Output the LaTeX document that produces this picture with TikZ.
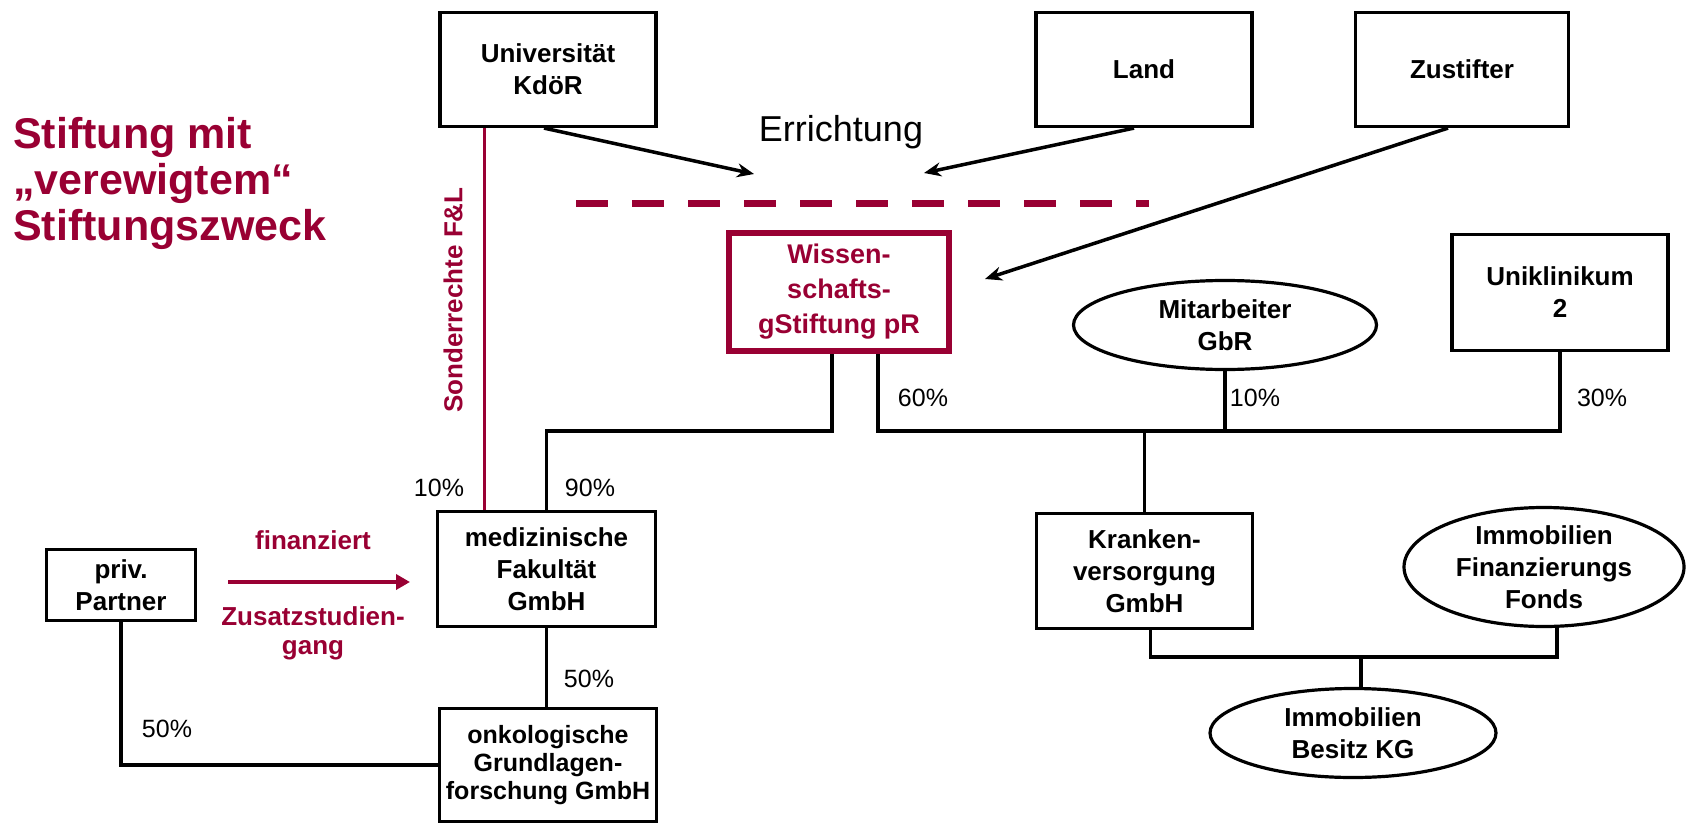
\documentclass[tikz,border=0pt]{standalone}
\usepackage{fontspec}
\setmainfont{Liberation Sans}
\usetikzlibrary{shapes.geometric,arrows.meta}
\definecolor{stiftrot}{HTML}{990033}

\begin{document}
\begin{tikzpicture}[x=1pt,y=-1pt,
  box/.style={draw,line width=3.2pt,rectangle,inner sep=0pt,align=center,
    font=\bfseries\fontsize{26}{32}\selectfont},
  oval/.style={draw,line width=3.2pt,ellipse,inner sep=0pt,align=center,
    font=\bfseries\fontsize{26}{32}\selectfont},
  link/.style={line width=3.5pt},
  pct/.style={anchor=base,inner sep=0pt,font=\fontsize{25}{30}\selectfont},
  redtext/.style={text=stiftrot,inner sep=0pt,font=\bfseries\fontsize{26}{29}\selectfont},
  errarrow/.style={line width=3.5pt,-{Stealth[length=17pt,width=14pt]}},
]
\useasboundingbox (0,0) rectangle (1688,824);

% title
\node[anchor=north west,inner sep=0pt,align=left,text=stiftrot,
  font=\bfseries\fontsize{43}{46}\selectfont] (title) at (13,117)
  {Stiftung mit\\„verewigtem“\\Stiftungszweck};

% founders
\node[box,minimum width=216pt,minimum height=114pt] (uni) at (548,69.5) {Universität\\KdöR};
\node[box,minimum width=216pt,minimum height=114pt] (land) at (1144,69.5) {Land};
\node[box,minimum width=213pt,minimum height=114pt] (zust) at (1462,69.5) {Zustifter};

\node[anchor=base,inner sep=0pt,font=\fontsize{36}{40}\selectfont] (err) at (841,142) {Errichtung};

\coordinate (e1) at (754,174);
\coordinate (e2) at (924,173);
\coordinate (e3) at (985,279);
\draw[errarrow] ([xshift=-4]uni.south) -- (e1);
\draw[errarrow] ([xshift=-10]land.south) -- (e2);
\draw[errarrow] ([xshift=-14]zust.south) -- (e3);

% boundary of the foundation purpose
\coordinate (d1) at (576,203);
\coordinate (d2) at (1149,203);
\draw[stiftrot,line width=7pt,dash pattern=on 32pt off 24pt] (d1) -- (d2);

% foundation and shareholders
\node[box,draw=stiftrot,text=stiftrot,line width=6pt,minimum width=220pt,minimum height=118pt,
  font=\bfseries\fontsize{27}{35}\selectfont] (wiss) at (839,292) {Wissen-\\schafts-\\gStiftung pR};
\node[oval,minimum width=303pt,minimum height=89pt] (mit) at (1225,325) {Mitarbeiter\\GbR};
\node[box,minimum width=216pt,minimum height=116pt] (uk) at (1560,292.5) {Uniklinikum\\2};

% companies
\node[box,minimum width=218pt,minimum height=115pt] (med) at (546.5,569) {medizinische\\Fakultät\\GmbH};
\node[box,minimum width=149pt,minimum height=71pt] (pp) at (121,585) {priv.\\Partner};
\node[box,minimum width=217pt,minimum height=113pt,font=\bfseries\fontsize{25}{28}\selectfont]
  (onk) at (548,765) {onkologische\\Grundlagen-\\forschung GmbH};
\node[box,minimum width=216pt,minimum height=115pt] (kv) at (1144.5,571) {Kranken-\\versorgung\\GmbH};
\node[oval,minimum width=280pt,minimum height=119pt] (fonds) at (1544,567) {Immobilien\\Finanzierungs\\Fonds};
\node[oval,minimum width=286pt,minimum height=89pt] (besitz) at (1353,733) {Immobilien\\Besitz KG};

% special rights of the university
\coordinate (r) at (484,0);
\draw[stiftrot,line width=3pt] (uni.south -| r) -- (med.north -| r);
\node[redtext,rotate=90] (sr) at (453,300) {Sonderrechte F\&L};

% ownership lines
\coordinate (jl) at (832,431);
\coordinate (jr) at (878,431);
\draw[link] (jl |- wiss.south) -- (jl) -| (med.north);
\draw[link] (jr |- wiss.south) -- (jr) -| (uk.south);
\draw[link] (mit.south) -- (mit.south |- jr);
\draw[link] (kv.north) -- (kv.north |- jr);
\draw[link] (med.south) -- (med.south |- onk.north);
\draw[link] (pp.south) |- (onk.west);
\coordinate (jb) at (1361,657);
\draw[link] ([xshift=6]kv.south) |- (jb) -| ([xshift=13]fonds.south);
\draw[link] (jb) -- (jb |- besitz.north);

% shares
\node[pct] (p60) at (923,406) {60\%};
\node[pct] (p10m) at (1255,406) {10\%};
\node[pct] (p30) at (1602,406) {30\%};
\node[pct] (p10u) at (439,496) {10\%};
\node[pct] (p90) at (590,496) {90\%};
\node[pct] (p50m) at (589,687) {50\%};
\node[pct] (p50p) at (167,737) {50\%};

% financing of the additional course
\coordinate (fa) at (228,582);
\coordinate (fb) at (410,582);
\draw[stiftrot,line width=4pt,-{Triangle[length=14pt,width=15pt]}] (fa) -- (fb);
\node[redtext,anchor=base] (fin) at (313,549) {finanziert};
\node[redtext,anchor=north,align=center] (zus) at (313,606) {Zusatzstudien-\\gang};
\end{tikzpicture}
\end{document}
